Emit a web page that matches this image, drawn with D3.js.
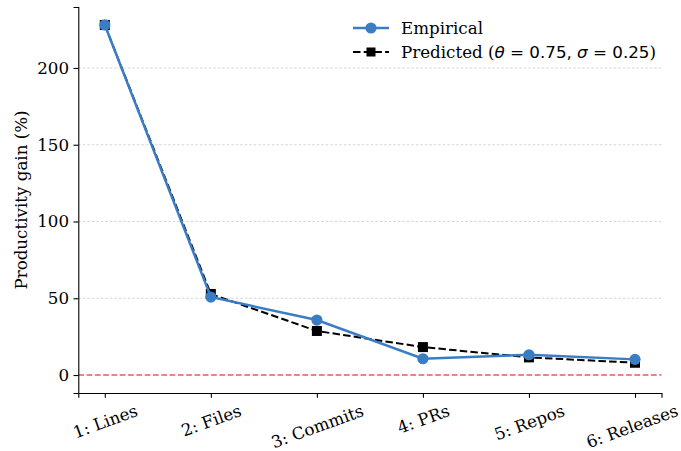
<!DOCTYPE html>
<html>
<head>
<meta charset="utf-8">
<script src="https://cdn.jsdelivr.net/npm/d3@7"></script>
<style>
  body { margin: 0; background: #fff; }
  text { font-family: "DejaVu Serif", serif; fill: #000; }
  .math { font-family: "DejaVu Sans", sans-serif; }
</style>
</head>
<body>
<svg class="chart"></svg>
<script>
// DATA
var categories = ["1: Lines", "2: Files", "3: Commits", "4: PRs", "5: Repos", "6: Releases"];
var empirical = [228, 50.8, 35.8, 10.6, 13.2, 10.2];
var predicted = [228, 52.8, 28.7, 18.2, 11.5, 8.0];
var yTicks = [0, 50, 100, 150, 200];

var W = 681, H = 451;
var margin = {top: 7, right: 19.5, bottom: 58, left: 78.3};
var width = W - margin.left - margin.right,
    height = H - margin.top - margin.bottom;
var fs = "16.7px";
var blue = "#3a7dc5";

var svg = d3.select(".chart").attr("width", W).attr("height", H);
var g = svg.append("g").attr("transform", "translate(" + margin.left + "," + margin.top + ")");

// SCALES (index based x with matplotlib-like padding)
var x = d3.scaleLinear().domain([-0.25, categories.length - 0.75]).range([0, width]);
var y = d3.scaleLinear().domain([-11.7, 239.7]).range([height, 0]);

// GRID
g.selectAll(".grid").data(yTicks.filter(function(d) { return d > 0; })).enter().append("line")
    .attr("x1", 0).attr("x2", width)
    .attr("y1", function(d) { return y(d); }).attr("y2", function(d) { return y(d); })
    .attr("stroke", "#cccccc").attr("stroke-width", 0.8).attr("stroke-dasharray", "2.5,2");

// ZERO LINE
g.append("line")
    .attr("x1", 0).attr("x2", width).attr("y1", y(0)).attr("y2", y(0))
    .attr("stroke", "#d62728").attr("stroke-opacity", 0.75).attr("stroke-width", 1.4)
    .attr("stroke-dasharray", "5.7,2.6");

// AXES
var yAxis = d3.axisLeft(y).tickValues(yTicks).tickSize(4.8).tickPadding(4.5);
var xAxis = d3.axisBottom(x).tickValues(d3.range(categories.length))
    .tickFormat(function(i) { return categories[i]; }).tickSize(4.8).tickPadding(4);

var gy = g.append("g").call(yAxis);
gy.select(".domain").attr("stroke-width", 1.1);
gy.selectAll(".tick line").attr("stroke-width", 1.1);
gy.selectAll("text").style("font-size", fs).style("font-family", "DejaVu Serif");

var gx = g.append("g").attr("transform", "translate(0," + height + ")").call(xAxis);
gx.select(".domain").attr("stroke-width", 1.1);
gx.selectAll(".tick line").attr("stroke-width", 1.1);
var ang = 20 * Math.PI / 180;
gx.selectAll("text")
    .style("font-size", fs).style("font-family", "DejaVu Serif")
    .attr("text-anchor", "middle")
    .attr("dy", "0.35em")
    .attr("y", 0)
    .attr("transform", function(i) {
      // rotated label box sits just below the tick, like matplotlib
      var w = this.getComputedTextLength(), h = 19;
      var off = 8 + (w * Math.sin(ang) + h * Math.cos(ang)) / 2;
      // keep the rotated box inside the page
      var half = (w * Math.cos(ang) + h * Math.sin(ang)) / 2;
      var dx = Math.min(0, (W - 1) - (margin.left + x(i) + half));
      return "translate(" + dx + "," + off + ") rotate(-20)";
    });

// Y LABEL
g.append("text")
    .attr("transform", "translate(" + (-51.5) + "," + (height / 2) + ") rotate(-90)")
    .attr("text-anchor", "middle")
    .style("font-size", fs)
    .text("Productivity gain (%)");

// PREDICTED
var line = d3.line().x(function(d, i) { return x(i); }).y(function(d) { return y(d); });

g.append("path").datum(predicted)
    .attr("d", line).attr("fill", "none")
    .attr("stroke", "#000").attr("stroke-width", 2).attr("stroke-dasharray", "7.5,3.2");
g.selectAll(".sq").data(predicted).enter().append("rect")
    .attr("x", function(d, i) { return x(i) - 5; })
    .attr("y", function(d) { return y(d) - 5; })
    .attr("width", 10).attr("height", 10)
    .attr("fill", "#000");

// EMPIRICAL
g.append("path").datum(empirical)
    .attr("d", line).attr("fill", "none")
    .attr("stroke", blue).attr("stroke-width", 2.5);
g.selectAll(".dot").data(empirical).enter().append("circle")
    .attr("cx", function(d, i) { return x(i); })
    .attr("cy", function(d) { return y(d); })
    .attr("r", 5.6).attr("fill", blue);

// LEGEND
var lg = svg.append("g").attr("transform", "translate(353,28)");
lg.append("line").attr("x1", 0).attr("x2", 36).attr("y1", 0).attr("y2", 0)
    .attr("stroke", blue).attr("stroke-width", 2.5);
lg.append("circle").attr("cx", 18).attr("cy", 0).attr("r", 5.6).attr("fill", blue);
lg.append("text").attr("x", 48).attr("y", 0).attr("dy", "0.35em")
    .style("font-size", fs).text("Empirical");

var lg2 = svg.append("g").attr("transform", "translate(353,52)");
lg2.append("line").attr("x1", 0).attr("x2", 36).attr("y1", 0).attr("y2", 0)
    .attr("stroke", "#000").attr("stroke-width", 2).attr("stroke-dasharray", "7.5,3.2");
lg2.append("rect").attr("x", 13.5).attr("y", -4.5).attr("width", 9).attr("height", 9).attr("fill", "#000");
var t2 = lg2.append("text").attr("x", 48).attr("y", 0).attr("dy", "0.35em").style("font-size", fs);
t2.append("tspan").text("Predicted (");
t2.append("tspan").attr("class", "math").style("font-style", "italic").text("θ");
t2.append("tspan").attr("class", "math").text(" = 0.75, ");
t2.append("tspan").attr("class", "math").style("font-style", "italic").text("σ");
t2.append("tspan").attr("class", "math").text(" = 0.25");
t2.append("tspan").text(")");
</script>
</body>
</html>
